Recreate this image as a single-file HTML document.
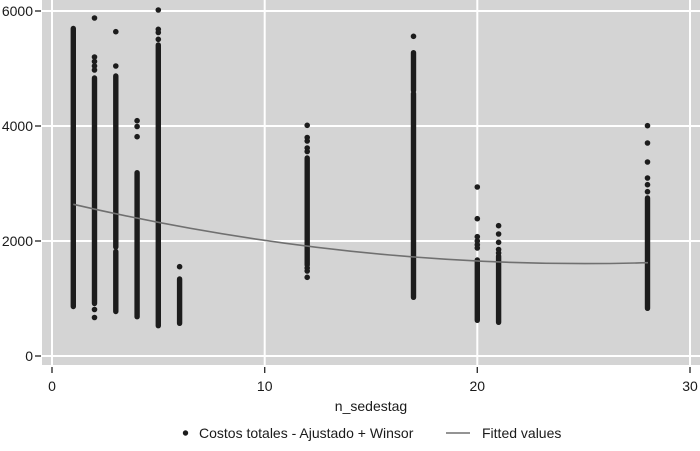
<!DOCTYPE html>
<html>
<head>
<meta charset="utf-8">
<style>
  html,body{margin:0;padding:0;background:#fff;}
  svg{display:block;}
  text{font-family:"Liberation Sans",Arial,sans-serif;font-size:14px;fill:#1a1a1a;}
</style>
</head>
<body>
<svg width="700" height="451" viewBox="0 0 700 451" xmlns="http://www.w3.org/2000/svg">
  <!-- plot region -->
  <rect x="42" y="0" width="658" height="365" fill="#d4d4d4"/>
  <!-- gridlines -->
  <g stroke="#ffffff" stroke-width="2">
    <line x1="42" y1="11" x2="700" y2="11"/>
    <line x1="42" y1="126" x2="700" y2="126"/>
    <line x1="42" y1="241" x2="700" y2="241"/>
    <line x1="42" y1="356" x2="700" y2="356"/>
    <line x1="52" y1="0" x2="52" y2="365"/>
    <line x1="264.7" y1="0" x2="264.7" y2="365"/>
    <line x1="477.3" y1="0" x2="477.3" y2="365"/>
    <line x1="690" y1="0" x2="690" y2="365"/>
  </g>
  <!-- ticks -->
  <g stroke="#333" stroke-width="1.4">
    <line x1="35" y1="11" x2="41" y2="11"/>
    <line x1="35" y1="126" x2="41" y2="126"/>
    <line x1="35" y1="241" x2="41" y2="241"/>
    <line x1="35" y1="356" x2="41" y2="356"/>
    <line x1="52" y1="367" x2="52" y2="373"/>
    <line x1="264.7" y1="367" x2="264.7" y2="373"/>
    <line x1="477.3" y1="367" x2="477.3" y2="373"/>
    <line x1="690" y1="367" x2="690" y2="373"/>
  </g>
  <!-- tick labels -->
  <g text-anchor="end">
    <text x="33" y="16">6000</text>
    <text x="33" y="131">4000</text>
    <text x="33" y="246">2000</text>
    <text x="33" y="361">0</text>
  </g>
  <g text-anchor="middle">
    <text x="52" y="391">0</text>
    <text x="264.7" y="391">10</text>
    <text x="477.3" y="391">20</text>
    <text x="690" y="391">30</text>
    <text x="371" y="411">n_sedestag</text>
  </g>

  <!-- scatter columns -->
  <g stroke="#1c1c1c" stroke-width="5.4" stroke-linecap="round">
    <line x1="73.3" y1="28.5" x2="73.3" y2="306.5"/>
    <line x1="94.5" y1="78" x2="94.5" y2="303.5"/>
    <line x1="115.8" y1="76" x2="115.8" y2="247"/>
    <line x1="115.8" y1="251.5" x2="115.8" y2="311.5"/>
    <line x1="137.1" y1="172.7" x2="137.1" y2="316.7"/>
    <line x1="158.3" y1="45" x2="158.3" y2="325.7"/>
    <line x1="179.6" y1="279" x2="179.6" y2="323.3"/>
    <line x1="307.2" y1="158" x2="307.2" y2="265"/>
    <line x1="413.5" y1="52.7" x2="413.5" y2="90.5"/>
    <line x1="413.5" y1="93.5" x2="413.5" y2="297.3"/>
    <line x1="477.3" y1="260" x2="477.3" y2="320.3"/>
    <line x1="498.6" y1="256" x2="498.6" y2="322.3"/>
    <line x1="647.5" y1="198" x2="647.5" y2="308.3"/>
  </g>
  <g fill="#1c1c1c">
    <!-- col2 -->
    <circle cx="94.5" cy="18" r="2.8"/>
    <circle cx="94.5" cy="57" r="2.8"/>
    <circle cx="94.5" cy="61.5" r="2.8"/>
    <circle cx="94.5" cy="66" r="2.8"/>
    <circle cx="94.5" cy="70" r="2.8"/>
    <circle cx="94.5" cy="309.5" r="2.8"/>
    <circle cx="94.5" cy="317.5" r="2.8"/>
    <!-- col3 -->
    <circle cx="115.8" cy="31.7" r="2.8"/>
    <circle cx="115.8" cy="66" r="2.8"/>
    <!-- col4 -->
    <circle cx="137.1" cy="120.7" r="2.8"/>
    <circle cx="137.1" cy="126.5" r="2.8"/>
    <circle cx="137.1" cy="136.7" r="2.8"/>
    <!-- col5 -->
    <circle cx="158.3" cy="10" r="2.8"/>
    <circle cx="158.3" cy="29.3" r="2.8"/>
    <circle cx="158.3" cy="32.5" r="2.8"/>
    <circle cx="158.3" cy="39.3" r="2.8"/>
    <!-- col6 -->
    <circle cx="179.6" cy="266.7" r="2.8"/>
    <!-- col12 -->
    <circle cx="307.2" cy="125.3" r="2.8"/>
    <circle cx="307.2" cy="137.5" r="2.8"/>
    <circle cx="307.2" cy="141" r="2.8"/>
    <circle cx="307.2" cy="148" r="2.8"/>
    <circle cx="307.2" cy="151.5" r="2.8"/>
    <circle cx="307.2" cy="268" r="2.8"/>
    <circle cx="307.2" cy="271" r="2.8"/>
    <circle cx="307.2" cy="277.3" r="2.8"/>
    <!-- col17 -->
    <circle cx="413.5" cy="36.3" r="2.8"/>
    <!-- col20 -->
    <circle cx="477.3" cy="187" r="2.8"/>
    <circle cx="477.3" cy="218.7" r="2.8"/>
    <circle cx="477.3" cy="236.7" r="2.8"/>
    <circle cx="477.3" cy="241" r="2.8"/>
    <circle cx="477.3" cy="244.7" r="2.8"/>
    <circle cx="477.3" cy="248" r="2.8"/>
    <!-- col21 -->
    <circle cx="498.6" cy="225.7" r="2.8"/>
    <circle cx="498.6" cy="234" r="2.8"/>
    <circle cx="498.6" cy="242.3" r="2.8"/>
    <circle cx="498.6" cy="249.5" r="2.8"/>
    <circle cx="498.6" cy="253" r="2.8"/>
    <!-- col28 -->
    <circle cx="647.5" cy="125.7" r="2.8"/>
    <circle cx="647.5" cy="143" r="2.8"/>
    <circle cx="647.5" cy="162" r="2.8"/>
    <circle cx="647.5" cy="178" r="2.8"/>
    <circle cx="647.5" cy="184.7" r="2.8"/>
    <circle cx="647.5" cy="191.7" r="2.8"/>
  </g>

  <!-- fitted line -->
  <path d="M73.3,204.3 Q360.65,270.95 648,262.7" fill="none" stroke="#707070" stroke-width="1.6"/>

  <!-- legend -->
  <circle cx="185.5" cy="433" r="2.7" fill="#1c1c1c"/>
  <text x="199" y="438">Costos totales - Ajustado + Winsor</text>
  <line x1="446" y1="433" x2="470" y2="433" stroke="#707070" stroke-width="1.6"/>
  <text x="482" y="438">Fitted values</text>
</svg>
</body>
</html>
